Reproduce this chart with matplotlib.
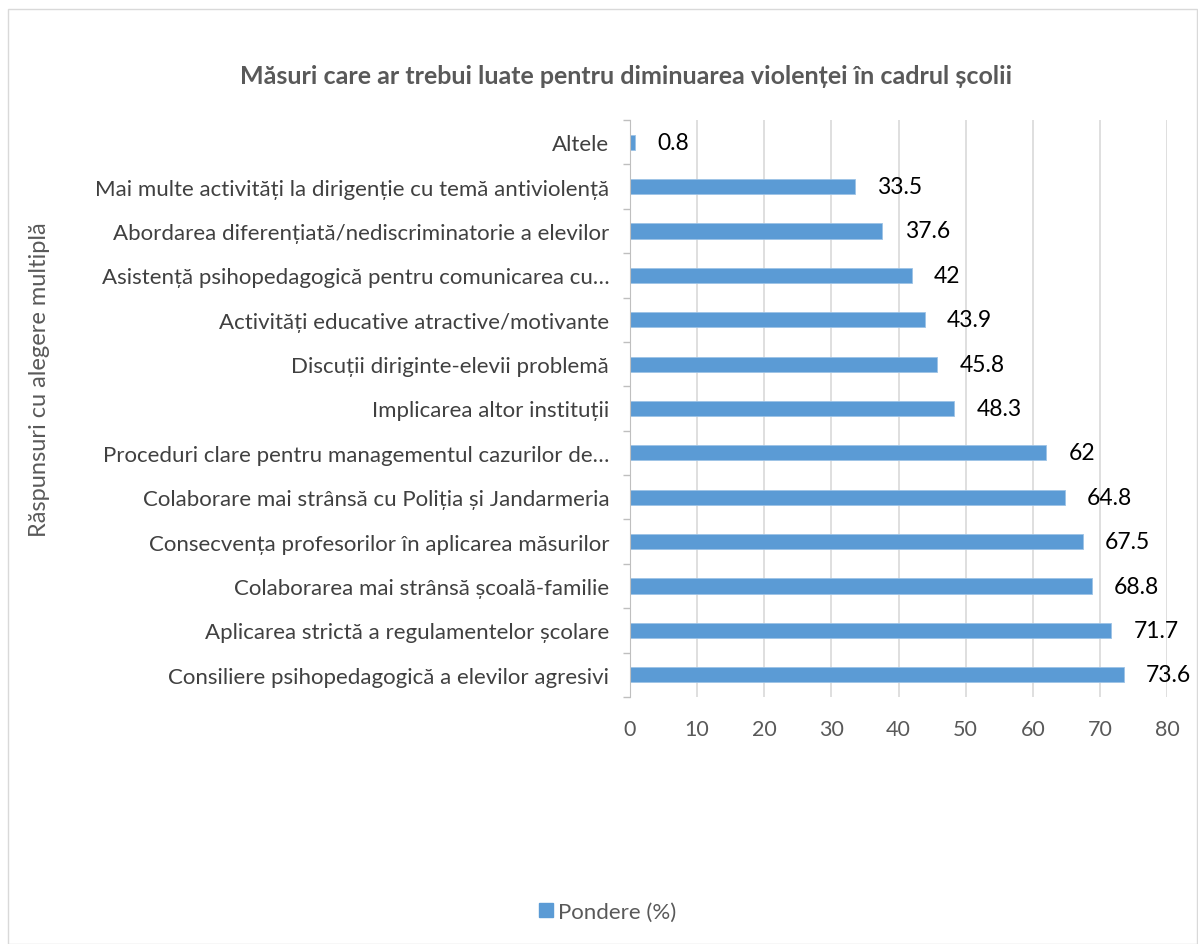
import matplotlib
matplotlib.use("Agg")
import matplotlib.pyplot as plt
from matplotlib.patches import Rectangle, Patch

plt.rcParams['font.family'] = ['Lato', 'DejaVu Sans']

categories = [
    "Consiliere psihopedagogică a elevilor agresivi",
    "Aplicarea strictă a regulamentelor școlare",
    "Colaborarea mai strânsă școală-familie",
    "Consecvența profesorilor în aplicarea măsurilor",
    "Colaborare mai strânsă cu Poliția și Jandarmeria",
    "Proceduri clare pentru managementul cazurilor de…",
    "Implicarea altor instituții",
    "Discuții diriginte-elevii problemă",
    "Activități educative atractive/motivante",
    "Asistență psihopedagogică pentru comunicarea cu…",
    "Abordarea diferențiată/nediscriminatorie a elevilor",
    "Mai multe activități la dirigenție cu temă antiviolență",
    "Altele",
]
values = [73.6, 71.7, 68.8, 67.5, 64.8, 62, 48.3, 45.8, 43.9, 42, 37.6, 33.5, 0.8]
value_labels = ["73.6", "71.7", "68.8", "67.5", "64.8", "62", "48.3", "45.8", "43.9", "42", "37.6", "33.5", "0.8"]
xticks = [0, 10, 20, 30, 40, 50, 60, 70, 80]
title = "Măsuri care ar trebui luate pentru diminuarea violenței în cadrul școlii"
ylabel = "Răspunsuri cu alegere multiplă"
legend_label = "Pondere (%)"

W, H = 1198, 945
fig = plt.figure(figsize=(W / 100, H / 100), dpi=100)
fig.patch.set_facecolor('white')

# outer chart border
fig.add_artist(Rectangle((8 / W, 0), (W - 9) / W, (H - 10) / H, transform=fig.transFigure,
                         fill=False, edgecolor='#D9D9D9', linewidth=1))

left, right, top, bottom = 630, 1167, 121, 698
ax = fig.add_axes([left / W, 1 - bottom / H, (right - left) / W, (bottom - top) / H])

bar_color = '#5B9BD5'
y = list(range(len(categories)))
ax.barh(y, values, height=0.34, color=bar_color, edgecolor='#9DC3E6', linewidth=0.6, zorder=3)
ax.set_ylim(-0.5, len(categories) - 0.5)
ax.set_xlim(0, 80)
ax.set_xticks(xticks)
ax.set_xticklabels([str(t) for t in xticks], fontsize=15.5, color='#595959')
ax.tick_params(axis='x', length=0, pad=16)
ax.set_yticks(y)
ax.set_yticklabels(categories, fontsize=16, color='#404040')
ax.tick_params(axis='y', which='major', length=0, pad=15)
ax.set_yticks([i - 0.5 for i in range(len(categories) + 1)], minor=True)
ax.tick_params(axis='y', which='minor', length=5, color='#BFBFBF', width=1)
ax.grid(axis='x', color='#D9D9D9', linewidth=1.2, zorder=0)
for s in ['top', 'right', 'bottom']:
    ax.spines[s].set_visible(False)
ax.spines['left'].set_color('#BFBFBF')
ax.spines['left'].set_zorder(4)

for yi, v, lab in zip(y, values, value_labels):
    ax.text(v + 3.3, yi, lab, va='center', ha='left', fontsize=16.5, color='black', zorder=5)

fig.text(626 / W, 1 - 77 / H, title, ha='center', va='center', fontsize=18,
         fontweight='bold', color='#595959')
fig.text(40 / W, 1 - 380 / H, ylabel, ha='center', va='center', rotation=90,
         fontsize=17, color='#595959')

leg = fig.legend(handles=[Patch(facecolor=bar_color, edgecolor=bar_color)], labels=[legend_label],
                 loc='center', bbox_to_anchor=(608 / W, 1 - 913 / H), frameon=False,
                 fontsize=16, handlelength=0.6, handleheight=0.6, handletextpad=0.25)
for t in leg.get_texts():
    t.set_color('#595959')

fig.savefig('out.png', dpi=100)
